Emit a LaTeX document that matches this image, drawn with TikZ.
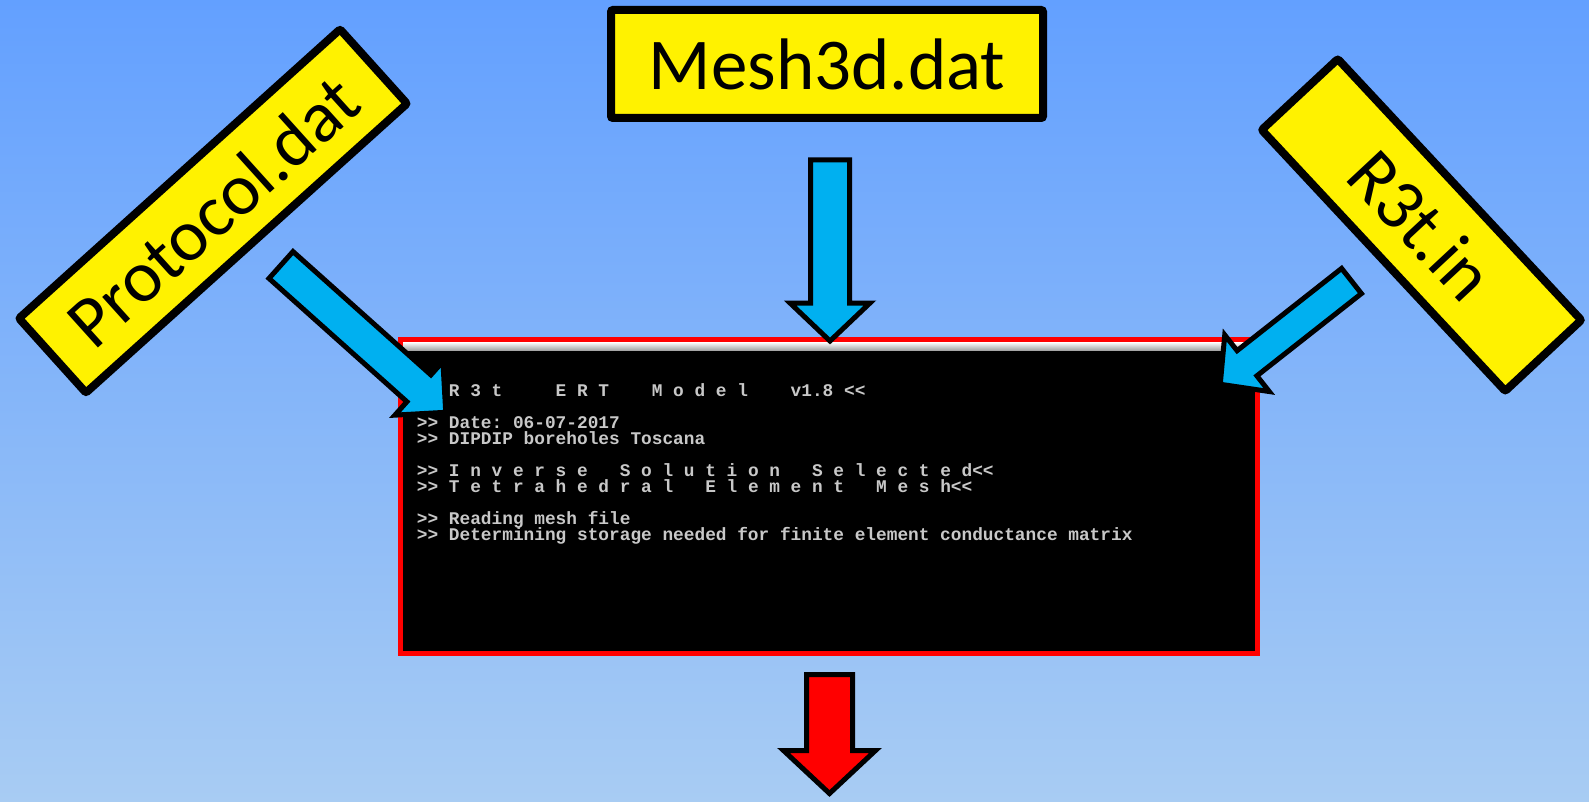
\documentclass[tikz,border=0pt]{standalone}
\usepackage{fontspec}
\setmainfont{Carlito}
\newfontfamily\termfont{Liberation Mono}[Ligatures=TeXOff]
\definecolor{skytop}{RGB}{99,160,255}
\definecolor{skybot}{RGB}{168,204,243}
\definecolor{arrowblue}{RGB}{0,176,240}
\definecolor{termgray}{RGB}{200,200,200}
\tikzset{
  filebox/.style={draw=black,line width=8pt,fill=yellow,rounded corners=2pt,
    minimum width=432pt,minimum height=100pt,inner sep=0pt,
    font=\fontsize{73}{80}\selectfont},
  termline/.style={anchor=base west,inner sep=0pt,text=termgray,
    font=\termfont\bfseries\fontsize{17.8}{16}\selectfont},
  pics/blockarrow/.style n args={5}{code={
    \draw[black,line width=5pt,line join=miter,fill=#5]
      (0,-#2) -- (#1-#4,-#2) -- (#1-#4,-#3) -- (#1,0) -- (#1-#4,#3)
      -- (#1-#4,#2) -- (0,#2) -- cycle;}}
}
\begin{document}
\begin{tikzpicture}[x=1pt,y=-1pt]
  \useasboundingbox (0,0) rectangle (1589,802);
  \shade[top color=skytop,bottom color=skybot] (0,0) rectangle (1589,802);
  % terminal window
  \node[draw=red,line width=5pt,fill=black,minimum width=857pt,
    minimum height=314pt,inner sep=0pt] (term) at (829,496.5) {};
  \shade[top color=white,bottom color=gray!70] (403,342) rectangle (1255,350);
  \node[termline] (l1) at (448.7,396.7) {R~3~t~~~~~E~R~T~~~~M~o~d~e~l~~~~v1.8~<<};
  \node[termline] (l2) at (416.7,428.7) {>>~Date:~06-07-2017};
  \node[termline] (l3) at (416.7,444.7) {>>~DIPDIP~boreholes~Toscana};
  \node[termline] (l4) at (416.7,476.7) {>>~I~n~v~e~r~s~e~~~S~o~l~u~t~i~o~n~~~S~e~l~e~c~t~e~d<<};
  \node[termline] (l5) at (416.7,492.7) {>>~T~e~t~r~a~h~e~d~r~a~l~~~E~l~e~m~e~n~t~~~M~e~s~h<<};
  \node[termline] (l6) at (416.7,524.7) {>>~Reading~mesh~file};
  \node[termline] (l7) at (416.7,540.7) {>>~Determining~storage~needed~for~finite~element~conductance~matrix};
  % input files
  \node[filebox,minimum height=108pt] (mesh) at (827,64) {Mesh3d.dat};
  \node[filebox,rotate=42] (protocol) at (213,211) {Protocol.dat};
  \node[filebox,rotate=-47,minimum width=357pt,minimum height=104pt] (rthree) at (1421.5,225) {R3t.in};
  % arrows
  \pic[rotate=-41.8] at (281,265) {blockarrow={221}{18}{36}{36}{arrowblue}};
  \pic[rotate=-90] at (830,160) {blockarrow={181}{19.5}{40}{38}{arrowblue}};
  \pic[rotate=-141.8] at (1351.5,281) {blockarrow={167}{16}{36}{34}{arrowblue}};
  \pic[rotate=-90] at (829.5,674.5) {blockarrow={119}{23}{46}{43}{red}};
\end{tikzpicture}
\end{document}
